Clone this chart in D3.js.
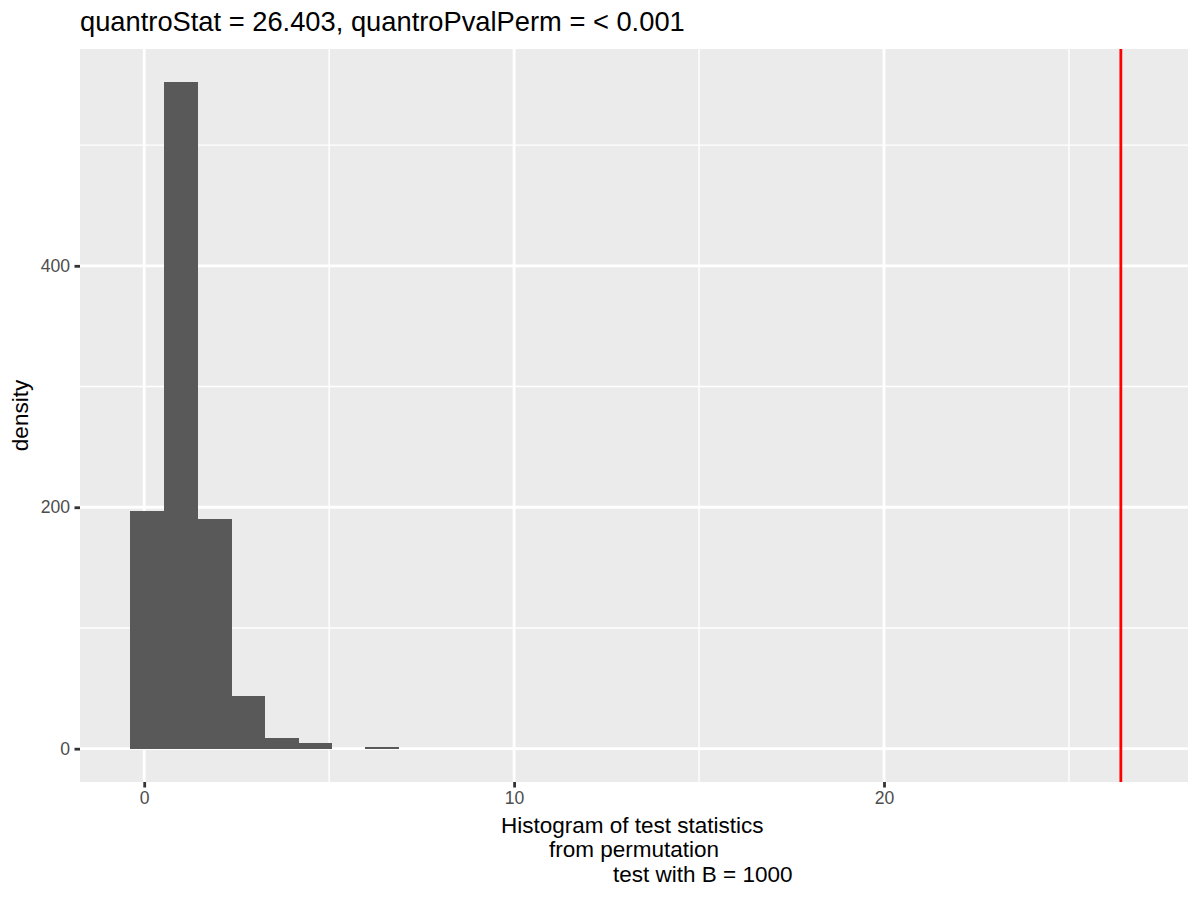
<!DOCTYPE html>
<html>
<head>
<meta charset="utf-8">
<script src="https://cdn.jsdelivr.net/npm/d3@7"></script>
<style>
  body { margin: 0; background: #fff; }
  text { font-family: "Liberation Sans", Arial, sans-serif; }
</style>
</head>
<body>
<script>
// histogram of 1000 permutation statistics, 30 bins
const binStart = -0.374
const binWidth = 0.9077
const binCounts = [197, 552, 190, 44, 9, 5, 0, 1, 0, 0,
                   0, 0, 0, 0, 0, 0, 0, 0, 0, 0,
                   0, 0, 0, 0, 0, 0, 0, 0, 0, 0]
const observedStat = 26.403
const xTicks = [0, 10, 20]
const xMinor = [5, 15, 25]
const yTicks = [0, 200, 400]
const yMinor = [100, 300, 500]
const titleText = "quantroStat = 26.403, quantroPvalPerm = < 0.001"
const xTitleLines = ["Histogram of test statistics", "from permutation", "test with B = 1000"]
const yTitle = "density"

const width = 1200, height = 900
const panel = {left: 80, right: 1188, top: 49, bottom: 782}

const bins = binCounts.map((c, i) => ({
  x0: binStart + i * binWidth,
  x1: binStart + (i + 1) * binWidth,
  count: c
}))

const xLo = binStart, xHi = binStart + binCounts.length * binWidth
const xPad = (xHi - xLo) * 0.05
const x = d3.scaleLinear()
  .domain([xLo - xPad, xHi + xPad])
  .range([panel.left, panel.right])

const yMax = d3.max(binCounts)
const y = d3.scaleLinear()
  .domain([-yMax * 0.05, yMax * 1.05])
  .range([panel.bottom, panel.top])

const svg = d3.select("body").append("svg")
  .attr("width", width)
  .attr("height", height)

svg.append("rect")
  .attr("x", panel.left).attr("y", panel.top)
  .attr("width", panel.right - panel.left)
  .attr("height", panel.bottom - panel.top)
  .attr("fill", "#EBEBEB")

const grid = svg.append("g").attr("stroke", "#fff")

grid.selectAll(".xminor").data(xMinor).join("line")
  .attr("x1", d => x(d)).attr("x2", d => x(d))
  .attr("y1", panel.top).attr("y2", panel.bottom)
  .attr("stroke-width", 1.4)
grid.selectAll(".yminor").data(yMinor).join("line")
  .attr("y1", d => y(d)).attr("y2", d => y(d))
  .attr("x1", panel.left).attr("x2", panel.right)
  .attr("stroke-width", 1.4)
grid.selectAll(".xmajor").data(xTicks).join("line")
  .attr("x1", d => x(d)).attr("x2", d => x(d))
  .attr("y1", panel.top).attr("y2", panel.bottom)
  .attr("stroke-width", 2.8)
grid.selectAll(".ymajor").data(yTicks).join("line")
  .attr("y1", d => y(d)).attr("y2", d => y(d))
  .attr("x1", panel.left).attr("x2", panel.right)
  .attr("stroke-width", 2.8)

// bars
svg.append("g")
  .attr("fill", "#595959")
  .attr("shape-rendering", "crispEdges")
  .selectAll("rect")
  .data(bins.filter(b => b.count > 0))
  .join("rect")
    .attr("x", d => x(d.x0))
    .attr("width", d => x(d.x1) - x(d.x0) + 0.5)
    .attr("y", d => y(d.count))
    .attr("height", d => y(0) - y(d.count))

// observed statistic
svg.append("line")
  .attr("x1", x(observedStat)).attr("x2", x(observedStat))
  .attr("y1", panel.top).attr("y2", panel.bottom)
  .attr("stroke", "#FF0000")
  .attr("stroke-width", 2.8)

// axes
const xAxis = d3.axisBottom(x).tickValues(xTicks).tickSize(5.5).tickPadding(4.4)
const yAxis = d3.axisLeft(y).tickValues(yTicks).tickSize(5.5).tickPadding(4.4)

const gx = svg.append("g")
  .attr("transform", `translate(0,${panel.bottom})`)
  .call(xAxis)
const gy = svg.append("g")
  .attr("transform", `translate(${panel.left},0)`)
  .call(yAxis)

for (const g of [gx, gy]) {
  g.select(".domain").remove()
  g.selectAll(".tick line").attr("stroke", "#333333").attr("stroke-width", 2.8)
  g.selectAll(".tick text")
    .attr("fill", "#4D4D4D")
    .attr("font-size", 17.6)
    .attr("font-family", "Liberation Sans, Arial, sans-serif")
}

// titles
svg.append("text")
  .attr("x", panel.left)
  .attr("y", 31)
  .attr("font-size", 27.3)
  .attr("fill", "#000")
  .text(titleText)

const xMid = (panel.left + panel.right) / 2
const lineOffsets = [-133, -85, -21]
svg.append("g")
  .selectAll("text")
  .data(xTitleLines)
  .join("text")
    .attr("x", (d, i) => xMid + lineOffsets[i])
    .attr("y", (d, i) => 833 + i * 24.3)
    .attr("font-size", 22.5)
    .attr("fill", "#000")
    .text(d => d)

svg.append("text")
  .attr("transform", `translate(28,${(panel.top + panel.bottom) / 2}) rotate(-90)`)
  .attr("text-anchor", "middle")
  .attr("font-size", 22.5)
  .attr("fill", "#000")
  .text(yTitle)
</script>
</body>
</html>
